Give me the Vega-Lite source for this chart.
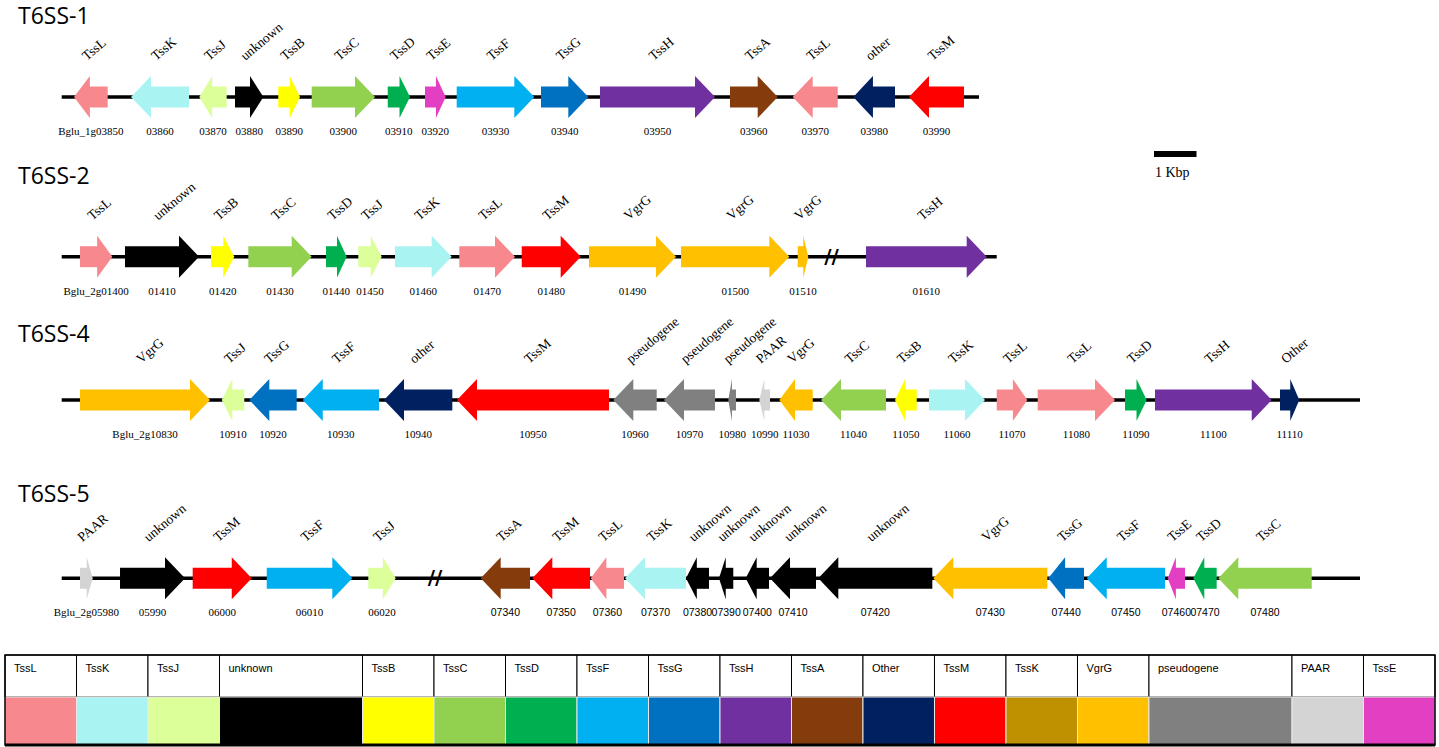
{
"$schema": "https://vega.github.io/schema/vega-lite/v6.json",
"background": "white",
"padding": 0,
"spacing": 0,
"bounds": "flush",
"config": {"view": {"stroke": null}},
"resolve": {"scale": {"x": "independent", "y": "independent", "color": "independent"}},
"datasets": {
"genes": [
{"track":1,"start":0.289,"end":1.082,"dir":"-","gene":"TssL","locus":"Bglu_1g03850","cat":"TssL"},
{"track":1,"start":1.631,"end":2.995,"dir":"-","gene":"TssK","locus":"03860","cat":"TssK"},
{"track":1,"start":3.238,"end":3.882,"dir":"-","gene":"TssJ","locus":"03870","cat":"TssJ"},
{"track":1,"start":4.078,"end":4.744,"dir":"+","gene":"unknown","locus":"03880","cat":"unknown"},
{"track":1,"start":5.096,"end":5.607,"dir":"+","gene":"TssB","locus":"03890","cat":"TssB"},
{"track":1,"start":5.882,"end":7.372,"dir":"+","gene":"TssC","locus":"03900","cat":"TssC"},
{"track":1,"start":7.671,"end":8.195,"dir":"+","gene":"TssD","locus":"03910","cat":"TssD"},
{"track":1,"start":8.548,"end":9.035,"dir":"+","gene":"TssE","locus":"03920","cat":"TssE"},
{"track":1,"start":9.294,"end":11.120,"dir":"+","gene":"TssF","locus":"03930","cat":"TssF"},
{"track":1,"start":11.278,"end":12.391,"dir":"+","gene":"TssG","locus":"03940","cat":"TssG"},
{"track":1,"start":12.666,"end":15.372,"dir":"+","gene":"TssH","locus":"03950","cat":"TssH"},
{"track":1,"start":15.725,"end":16.847,"dir":"+","gene":"TssA","locus":"03960","cat":"TssA"},
{"track":1,"start":17.200,"end":18.259,"dir":"-","gene":"TssL","locus":"03970","cat":"TssL"},
{"track":1,"start":18.626,"end":19.607,"dir":"-","gene":"other","locus":"03980","cat":"Other"},
{"track":1,"start":19.936,"end":21.231,"dir":"-","gene":"TssM","locus":"03990","cat":"TssM"},
{"track":2,"start":0.431,"end":1.191,"dir":"+","gene":"TssL","locus":"Bglu_2g01400","cat":"TssL"},
{"track":2,"start":1.489,"end":3.231,"dir":"+","gene":"unknown","locus":"01410","cat":"unknown"},
{"track":2,"start":3.513,"end":4.061,"dir":"+","gene":"TssB","locus":"01420","cat":"TssB"},
{"track":2,"start":4.391,"end":5.882,"dir":"+","gene":"TssC","locus":"01430","cat":"TssC"},
{"track":2,"start":6.219,"end":6.706,"dir":"+","gene":"TssD","locus":"01440","cat":"TssD"},
{"track":2,"start":6.979,"end":7.529,"dir":"+","gene":"TssJ","locus":"01450","cat":"TssJ"},
{"track":2,"start":7.842,"end":9.176,"dir":"+","gene":"TssK","locus":"01460","cat":"TssK"},
{"track":2,"start":9.355,"end":10.666,"dir":"+","gene":"TssL","locus":"01470","cat":"TssL"},
{"track":2,"start":10.824,"end":12.212,"dir":"+","gene":"TssM","locus":"01480","cat":"TssM"},
{"track":2,"start":12.407,"end":14.454,"dir":"+","gene":"VgrG","locus":"01490","cat":"VgrG"},
{"track":2,"start":14.572,"end":17.120,"dir":"+","gene":"VgrG","locus":"01500","cat":"VgrG"},
{"track":2,"start":17.318,"end":17.567,"dir":"+","gene":"VgrG","locus":"01510","cat":"VgrG"},
{"track":2,"start":18.925,"end":21.765,"dir":"+","gene":"TssH","locus":"01610","cat":"TssH"},
{"track":4,"start":0.431,"end":3.489,"dir":"+","gene":"VgrG","locus":"Bglu_2g10830","cat":"VgrG"},
{"track":4,"start":3.765,"end":4.296,"dir":"-","gene":"TssJ","locus":"10910","cat":"TssJ"},
{"track":4,"start":4.414,"end":5.529,"dir":"-","gene":"TssG","locus":"10920","cat":"TssG"},
{"track":4,"start":5.671,"end":7.466,"dir":"-","gene":"TssF","locus":"10930","cat":"TssF"},
{"track":4,"start":7.584,"end":9.191,"dir":"-","gene":"other","locus":"10940","cat":"Other"},
{"track":4,"start":9.301,"end":12.878,"dir":"-","gene":"TssM","locus":"10950","cat":"TssM"},
{"track":4,"start":12.979,"end":14.0,"dir":"-","gene":"pseudogene","locus":"10960","cat":"pseudogene"},
{"track":4,"start":14.172,"end":15.372,"dir":"-","gene":"pseudogene","locus":"10970","cat":"pseudogene"},
{"track":4,"start":15.685,"end":15.866,"dir":"-","gene":"pseudogene","locus":"10980","cat":"pseudogene"},
{"track":4,"start":16.414,"end":16.666,"dir":"-","gene":"PAAR","locus":"10990","cat":"PAAR"},
{"track":4,"start":16.885,"end":17.671,"dir":"-","gene":"VgrG","locus":"11030","cat":"VgrG"},
{"track":4,"start":17.866,"end":19.395,"dir":"-","gene":"TssC","locus":"11040","cat":"TssC"},
{"track":4,"start":19.607,"end":20.118,"dir":"-","gene":"TssB","locus":"11050","cat":"TssB"},
{"track":4,"start":20.407,"end":21.725,"dir":"+","gene":"TssK","locus":"11060","cat":"TssK"},
{"track":4,"start":22.0,"end":22.720,"dir":"+","gene":"TssL","locus":"11070","cat":"TssL"},
{"track":4,"start":22.965,"end":24.784,"dir":"+","gene":"TssL","locus":"11080","cat":"TssL"},
{"track":4,"start":25.019,"end":25.529,"dir":"+","gene":"TssD","locus":"11090","cat":"TssD"},
{"track":4,"start":25.725,"end":28.471,"dir":"+","gene":"TssH","locus":"11100","cat":"TssH"},
{"track":4,"start":28.666,"end":29.120,"dir":"+","gene":"Other","locus":"11110","cat":"Other"},
{"track":5,"start":0.431,"end":0.729,"dir":"+","gene":"PAAR","locus":"Bglu_2g05980","cat":"PAAR"},
{"track":5,"start":1.372,"end":2.901,"dir":"+","gene":"unknown","locus":"05990","cat":"unknown"},
{"track":5,"start":3.082,"end":4.471,"dir":"+","gene":"TssM","locus":"06000","cat":"TssM"},
{"track":5,"start":4.824,"end":6.838,"dir":"+","gene":"TssF","locus":"06010","cat":"TssF"},
{"track":5,"start":7.214,"end":7.859,"dir":"+","gene":"TssJ","locus":"06020","cat":"TssJ"},
{"track":5,"start":9.859,"end":11.019,"dir":"-","gene":"TssA","locus":"07340","cat":"TssA"},
{"track":5,"start":11.073,"end":12.431,"dir":"-","gene":"TssM","locus":"07350","cat":"TssM"},
{"track":5,"start":12.447,"end":13.231,"dir":"-","gene":"TssL","locus":"07360","cat":"TssL"},
{"track":5,"start":13.254,"end":14.689,"dir":"-","gene":"TssK","locus":"07370","cat":"TssK"},
{"track":5,"start":14.689,"end":15.231,"dir":"-","gene":"unknown","locus":"07380","cat":"unknown"},
{"track":5,"start":15.466,"end":15.802,"dir":"-","gene":"unknown","locus":"07390","cat":"unknown"},
{"track":5,"start":16.094,"end":16.642,"dir":"-","gene":"unknown","locus":"07400","cat":"unknown"},
{"track":5,"start":16.666,"end":17.748,"dir":"-","gene":"unknown","locus":"07410","cat":"unknown"},
{"track":5,"start":17.802,"end":20.485,"dir":"-","gene":"unknown","locus":"07420","cat":"unknown"},
{"track":5,"start":20.508,"end":23.191,"dir":"-","gene":"VgrG","locus":"07430","cat":"VgrG"},
{"track":5,"start":23.214,"end":24.054,"dir":"-","gene":"TssG","locus":"07440","cat":"TssG"},
{"track":5,"start":24.118,"end":25.960,"dir":"-","gene":"TssF","locus":"07450","cat":"TssF"},
{"track":5,"start":26.024,"end":26.431,"dir":"-","gene":"TssE","locus":"07460","cat":"TssE"},
{"track":5,"start":26.626,"end":27.176,"dir":"-","gene":"TssD","locus":"07470","cat":"TssD"},
{"track":5,"start":27.214,"end":29.412,"dir":"-","gene":"TssC","locus":"07480","cat":"TssC"}
],
"tracks": [
{"track":1,"name":"T6SS-1","from":0,"to":21.584},
{"track":2,"name":"T6SS-2","from":0,"to":22.0},
{"track":4,"name":"T6SS-4","from":0,"to":30.548},
{"track":5,"name":"T6SS-5","from":0,"to":30.548}
],
"breaks": [
{"track":2,"at":18.113},
{"track":5,"at":8.784}
],
"scalebar": [
{"track":1,"from":25.701,"to":26.701,"label":"1 Kbp"}
],
"legend": [
{"label":"TssL","cat":"TssL","c0":0,"c1":1},
{"label":"TssK","cat":"TssK","c0":1,"c1":2},
{"label":"TssJ","cat":"TssJ","c0":2,"c1":3},
{"label":"unknown","cat":"unknown","c0":3,"c1":5},
{"label":"TssB","cat":"TssB","c0":5,"c1":6},
{"label":"TssC","cat":"TssC","c0":6,"c1":7},
{"label":"TssD","cat":"TssD","c0":7,"c1":8},
{"label":"TssF","cat":"TssF","c0":8,"c1":9},
{"label":"TssG","cat":"TssG","c0":9,"c1":10},
{"label":"TssH","cat":"TssH","c0":10,"c1":11},
{"label":"TssA","cat":"TssA","c0":11,"c1":12},
{"label":"Other","cat":"Other","c0":12,"c1":13},
{"label":"TssM","cat":"TssM","c0":13,"c1":14},
{"label":"TssK","cat":"TssK (gold)","c0":14,"c1":15},
{"label":"VgrG","cat":"VgrG","c0":15,"c1":16},
{"label":"pseudogene","cat":"pseudogene","c0":16,"c1":18},
{"label":"PAAR","cat":"PAAR","c0":18,"c1":19},
{"label":"TssE","cat":"TssE","c0":19,"c1":20}
]
},
"vconcat": [
{
"width": 1439,
"height": 655,
"layer": [
{
"data": {"name": "tracks"},
"mark": {"type": "rule", "strokeWidth": 3.5, "color": "black"},
"encoding": {
"x": {"field": "from", "type": "quantitative", "scale": {"domain": [-1.452, 32.407], "nice": false, "zero": false}, "axis": null},
"x2": {"field": "to"},
"y": {"field": "track", "type": "quantitative", "scale": {"domain": [1, 2, 4, 5], "range": [97, 256.7, 400, 578.3], "nice": false, "zero": false}, "axis": null}
}
},
{
"data": {"name": "genes"},
"transform": [{"filter": "datum.dir == '+'"}],
"mark": {"type": "rect", "yOffset": -10.5, "y2Offset": 10.5, "x2Offset": {"expr": "-max(0, min(20, 20*(datum.end-datum.start)) - 1)"}},
"encoding": {
"x": {"field": "start", "type": "quantitative", "scale": {"domain": [-1.452, 32.407], "nice": false, "zero": false}, "axis": null},
"x2": {"field": "end"},
"y": {"field": "track", "type": "quantitative", "scale": {"domain": [1, 2, 4, 5], "range": [97, 256.7, 400, 578.3], "nice": false, "zero": false}, "axis": null},
"y2": {"field": "track"},
"color": {"field": "cat", "type": "nominal", "legend": null, "scale": {"domain": ["TssL","TssK","TssJ","unknown","TssB","TssC","TssD","TssF","TssG","TssH","TssA","Other","TssM","TssK (gold)","VgrG","pseudogene","PAAR","TssE"], "range": ["#F7888E","#A9F3F3","#DCFF99","#000000","#FFFF00","#92D050","#00B050","#00B0F0","#0070C0","#7030A0","#843C0C","#002060","#FF0000","#BF9000","#FFC000","#808080","#D4D4D4","#E33FC3"]}}
}
},
{
"data": {"name": "genes"},
"transform": [{"filter": "datum.dir == '-'"}],
"mark": {"type": "rect", "yOffset": -10.5, "y2Offset": 10.5, "xOffset": {"expr": "max(0, min(20, 20*(datum.end-datum.start)) - 1)"}},
"encoding": {
"x": {"field": "start", "type": "quantitative", "scale": {"domain": [-1.452, 32.407], "nice": false, "zero": false}, "axis": null},
"x2": {"field": "end"},
"y": {"field": "track", "type": "quantitative", "scale": {"domain": [1, 2, 4, 5], "range": [97, 256.7, 400, 578.3], "nice": false, "zero": false}, "axis": null},
"y2": {"field": "track"},
"color": {"field": "cat", "type": "nominal", "legend": null, "scale": {"domain": ["TssL","TssK","TssJ","unknown","TssB","TssC","TssD","TssF","TssG","TssH","TssA","Other","TssM","TssK (gold)","VgrG","pseudogene","PAAR","TssE"], "range": ["#F7888E","#A9F3F3","#DCFF99","#000000","#FFFF00","#92D050","#00B050","#00B0F0","#0070C0","#7030A0","#843C0C","#002060","#FF0000","#BF9000","#FFC000","#808080","#D4D4D4","#E33FC3"]}}
}
},
{
"data": {"name": "genes"},
"transform": [{"filter": "datum.dir == '+'"}],
"mark": {"type": "point", "filled": true, "size": 4, "opacity": 1, "strokeWidth": 0, "shape": {"expr": "'M0,0L' + (-min(20, 20*(datum.end-datum.start))) + ',-21L' + (-min(20, 20*(datum.end-datum.start))) + ',21Z'"}},
"encoding": {
"x": {"field": "end", "type": "quantitative", "scale": {"domain": [-1.452, 32.407], "nice": false, "zero": false}, "axis": null},
"y": {"field": "track", "type": "quantitative", "scale": {"domain": [1, 2, 4, 5], "range": [97, 256.7, 400, 578.3], "nice": false, "zero": false}, "axis": null},
"color": {"field": "cat", "type": "nominal", "legend": null, "scale": {"domain": ["TssL","TssK","TssJ","unknown","TssB","TssC","TssD","TssF","TssG","TssH","TssA","Other","TssM","TssK (gold)","VgrG","pseudogene","PAAR","TssE"], "range": ["#F7888E","#A9F3F3","#DCFF99","#000000","#FFFF00","#92D050","#00B050","#00B0F0","#0070C0","#7030A0","#843C0C","#002060","#FF0000","#BF9000","#FFC000","#808080","#D4D4D4","#E33FC3"]}}
}
},
{
"data": {"name": "genes"},
"transform": [{"filter": "datum.dir == '-'"}],
"mark": {"type": "point", "filled": true, "size": 4, "opacity": 1, "strokeWidth": 0, "shape": {"expr": "'M0,0L' + min(20, 20*(datum.end-datum.start)) + ',-21L' + min(20, 20*(datum.end-datum.start)) + ',21Z'"}},
"encoding": {
"x": {"field": "start", "type": "quantitative", "scale": {"domain": [-1.452, 32.407], "nice": false, "zero": false}, "axis": null},
"y": {"field": "track", "type": "quantitative", "scale": {"domain": [1, 2, 4, 5], "range": [97, 256.7, 400, 578.3], "nice": false, "zero": false}, "axis": null},
"color": {"field": "cat", "type": "nominal", "legend": null, "scale": {"domain": ["TssL","TssK","TssJ","unknown","TssB","TssC","TssD","TssF","TssG","TssH","TssA","Other","TssM","TssK (gold)","VgrG","pseudogene","PAAR","TssE"], "range": ["#F7888E","#A9F3F3","#DCFF99","#000000","#FFFF00","#92D050","#00B050","#00B0F0","#0070C0","#7030A0","#843C0C","#002060","#FF0000","#BF9000","#FFC000","#808080","#D4D4D4","#E33FC3"]}}
}
},
{
"data": {"name": "breaks"},
"mark": {"type": "text", "text": "//", "font": "DejaVu Sans", "fontWeight": "bold", "fontSize": 20, "align": "center", "baseline": "middle", "color": "black"},
"encoding": {
"x": {"field": "at", "type": "quantitative", "scale": {"domain": [-1.452, 32.407], "nice": false, "zero": false}, "axis": null},
"y": {"field": "track", "type": "quantitative", "scale": {"domain": [1, 2, 4, 5], "range": [97, 256.7, 400, 578.3], "nice": false, "zero": false}, "axis": null}
}
},
{
"data": {"name": "genes"},
"transform": [
{"fold": ["start", "end"], "as": ["k", "v"]},
{"aggregate": [{"op": "mean", "field": "v", "as": "mid"}], "groupby": ["track", "gene", "locus"]}
],
"mark": {"type": "text", "angle": 320, "align": "left", "baseline": "alphabetic", "font": "Liberation Serif", "fontSize": 13.5, "xOffset": -4, "yOffset": -36, "color": "black"},
"encoding": {
"x": {"field": "mid", "type": "quantitative", "scale": {"domain": [-1.452, 32.407], "nice": false, "zero": false}, "axis": null},
"y": {"field": "track", "type": "quantitative", "scale": {"domain": [1, 2, 4, 5], "range": [97, 256.7, 400, 578.3], "nice": false, "zero": false}, "axis": null},
"text": {"field": "gene"}
}
},
{
"data": {"name": "genes"},
"transform": [
{"fold": ["start", "end"], "as": ["k", "v"]},
{"aggregate": [{"op": "mean", "field": "v", "as": "mid"}], "groupby": ["track", "gene", "locus"]}
],
"mark": {"type": "text", "align": "center", "baseline": "middle", "font": {"expr": "datum.track == 5 && datum.mid > 9 ? 'Liberation Sans' : 'Liberation Serif'"}, "fontSize": {"expr": "datum.track == 5 && datum.mid > 9 ? 10.5 : 11"}, "yOffset": 35, "color": "black"},
"encoding": {
"x": {"field": "mid", "type": "quantitative", "scale": {"domain": [-1.452, 32.407], "nice": false, "zero": false}, "axis": null},
"y": {"field": "track", "type": "quantitative", "scale": {"domain": [1, 2, 4, 5], "range": [97, 256.7, 400, 578.3], "nice": false, "zero": false}, "axis": null},
"text": {"field": "locus"}
}
},
{
"data": {"name": "tracks"},
"mark": {"type": "text", "align": "left", "baseline": "middle", "font": "Open Sans", "fontSize": 23, "xOffset": -43.7, "yOffset": {"expr": "datum.track == 4 ? -65 : datum.track == 5 ? -83 : -80"}, "color": "black"},
"encoding": {
"x": {"field": "from", "type": "quantitative", "scale": {"domain": [-1.452, 32.407], "nice": false, "zero": false}, "axis": null},
"y": {"field": "track", "type": "quantitative", "scale": {"domain": [1, 2, 4, 5], "range": [97, 256.7, 400, 578.3], "nice": false, "zero": false}, "axis": null},
"text": {"field": "name"}
}
},
{
"data": {"name": "scalebar"},
"mark": {"type": "rect", "color": "black", "yOffset": 54, "y2Offset": 60},
"encoding": {
"x": {"field": "from", "type": "quantitative", "scale": {"domain": [-1.452, 32.407], "nice": false, "zero": false}, "axis": null},
"x2": {"field": "to"},
"y": {"field": "track", "type": "quantitative", "scale": {"domain": [1, 2, 4, 5], "range": [97, 256.7, 400, 578.3], "nice": false, "zero": false}, "axis": null},
"y2": {"field": "track"}
}
},
{
"data": {"name": "scalebar"},
"mark": {"type": "text", "align": "left", "baseline": "middle", "font": "Liberation Serif", "fontSize": 14, "xOffset": 1, "yOffset": 76, "color": "black"},
"encoding": {
"x": {"field": "from", "type": "quantitative", "scale": {"domain": [-1.452, 32.407], "nice": false, "zero": false}, "axis": null},
"y": {"field": "track", "type": "quantitative", "scale": {"domain": [1, 2, 4, 5], "range": [97, 256.7, 400, 578.3], "nice": false, "zero": false}, "axis": null},
"text": {"field": "label"}
}
}
]
},
{
"width": 1439,
"height": 90,
"layer": [
{
"data": {"name": "legend"},
"mark": {"type": "rect", "fill": "white", "stroke": "black", "strokeWidth": 1},
"encoding": {
"x": {"field": "c0", "type": "quantitative", "scale": {"domain": [-0.07, 20.056], "nice": false, "zero": false}, "axis": null},
"x2": {"field": "c1"},
"y": {"datum": 0, "type": "quantitative", "scale": {"domain": [0, 1, 2], "range": [0, 42, 90], "nice": false, "zero": false}, "axis": null},
"y2": {"datum": 1}
}
},
{
"data": {"name": "legend"},
"mark": {"type": "rect", "stroke": "#e8e8e8", "strokeWidth": 1},
"encoding": {
"x": {"field": "c0", "type": "quantitative", "scale": {"domain": [-0.07, 20.056], "nice": false, "zero": false}, "axis": null},
"x2": {"field": "c1"},
"y": {"datum": 1, "type": "quantitative", "scale": {"domain": [0, 1, 2], "range": [0, 42, 90], "nice": false, "zero": false}, "axis": null},
"y2": {"datum": 2},
"fill": {"field": "cat", "type": "nominal", "legend": null, "scale": {"domain": ["TssL","TssK","TssJ","unknown","TssB","TssC","TssD","TssF","TssG","TssH","TssA","Other","TssM","TssK (gold)","VgrG","pseudogene","PAAR","TssE"], "range": ["#F7888E","#A9F3F3","#DCFF99","#000000","#FFFF00","#92D050","#00B050","#00B0F0","#0070C0","#7030A0","#843C0C","#002060","#FF0000","#BF9000","#FFC000","#808080","#D4D4D4","#E33FC3"]}}
}
},
{
"data": {"name": "legend"},
"mark": {"type": "text", "align": "left", "baseline": "alphabetic", "font": "Liberation Sans", "fontSize": 11, "xOffset": 9, "yOffset": 17, "color": "black"},
"encoding": {
"x": {"field": "c0", "type": "quantitative", "scale": {"domain": [-0.07, 20.056], "nice": false, "zero": false}, "axis": null},
"y": {"datum": 0, "type": "quantitative", "scale": {"domain": [0, 1, 2], "range": [0, 42, 90], "nice": false, "zero": false}, "axis": null},
"text": {"field": "label"}
}
},
{
"data": {"values": [{"a": 0, "b": 20}]},
"mark": {"type": "rect", "filled": false, "stroke": "black", "strokeWidth": 1.5},
"encoding": {
"x": {"field": "a", "type": "quantitative", "scale": {"domain": [-0.07, 20.056], "nice": false, "zero": false}, "axis": null},
"x2": {"field": "b"},
"y": {"datum": 0, "type": "quantitative", "scale": {"domain": [0, 1, 2], "range": [0, 42, 90], "nice": false, "zero": false}, "axis": null},
"y2": {"datum": 2}
}
},
{
"data": {"values": [{"a": 0, "b": 20}]},
"mark": {"type": "rule", "stroke": "black", "strokeWidth": 3},
"encoding": {
"x": {"field": "a", "type": "quantitative", "scale": {"domain": [-0.07, 20.056], "nice": false, "zero": false}, "axis": null},
"x2": {"field": "b"},
"y": {"datum": 2, "type": "quantitative", "scale": {"domain": [0, 1, 2], "range": [0, 42, 90], "nice": false, "zero": false}, "axis": null}
}
}
]
}
]
}
